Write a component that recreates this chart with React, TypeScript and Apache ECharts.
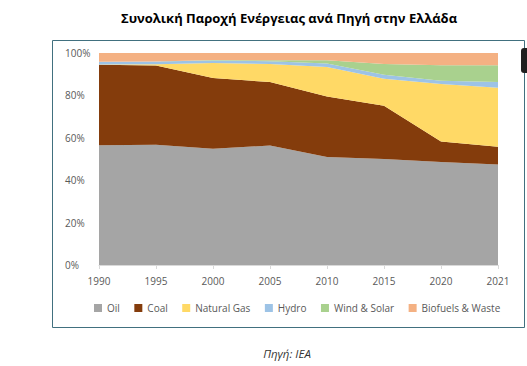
import React, { useEffect, useRef } from "react";
import * as echarts from "echarts";

const years = ["1990", "1995", "2000", "2005", "2010", "2015", "2020", "2021"];
const oil = [56.5, 56.7, 54.8, 56.4, 51.0, 50.0, 48.6, 47.4];
const coal = [38.0, 37.4, 33.4, 29.9, 28.5, 25.1, 9.7, 8.4];
const gas = [0.1, 0.6, 7.1, 8.5, 13.9, 12.8, 27.1, 27.8];
const hydro = [1.3, 1.3, 1.2, 1.3, 1.6, 1.8, 1.5, 2.7];
const windSolar = [0.0, 0.0, 0.2, 0.5, 1.6, 5.1, 7.3, 7.9];
const biofuels = [4.1, 4.0, 3.3, 3.4, 3.4, 5.2, 5.8, 5.8];
const yTicks = [0, 20, 40, 60, 80, 100];

const seriesDefs = [
  { name: "Oil", data: oil, color: "#A5A5A5" },
  { name: "Coal", data: coal, color: "#843C0C" },
  { name: "Natural Gas", data: gas, color: "#FFD966" },
  { name: "Hydro", data: hydro, color: "#9DC3E6" },
  { name: "Wind & Solar", data: windSolar, color: "#A9D18E" },
  { name: "Biofuels & Waste", data: biofuels, color: "#F4B183" },
];

export default function App() {
  const ref = useRef<HTMLDivElement>(null);
  useEffect(() => {
    document.body.style.margin = "0";
    const chart = echarts.init(ref.current!, null, { renderer: "svg" });
    const font = "'Open Sans', 'Noto Sans', sans-serif";
    chart.setOption({
      animation: false,
      backgroundColor: "#ffffff",
      textStyle: { fontFamily: font },
      grid: { left: 99, top: 53, width: 399, height: 212, containLabel: false },
      xAxis: {
        type: "category",
        data: years,
        boundaryGap: false,
        axisLine: { lineStyle: { color: "#D9D9D9" } },
        axisTick: { show: true, alignWithLabel: true, length: 4, lineStyle: { color: "#D9D9D9" } },
        axisLabel: { color: "#595959", fontSize: 10, margin: 11, fontFamily: font },
        splitLine: { show: false },
      },
      yAxis: {
        type: "value",
        min: 0,
        max: 100,
        interval: 20,
        axisLine: { show: false },
        axisTick: { show: false },
        splitLine: { show: false },
        axisLabel: {
          color: "#595959",
          fontSize: 10,
          align: "left",
          margin: 34,
          fontFamily: font,
          formatter: (v: number) => (yTicks.includes(v) ? v + "%" : ""),
        },
      },
      legend: {
        top: 298,
        left: 89,
        icon: "rect",
        itemWidth: 8,
        itemHeight: 8,
        itemGap: 14.5,
        textStyle: { color: "#595959", fontSize: 10, fontFamily: font },
        data: seriesDefs.map((s) => s.name),
      },
      series: seriesDefs.map((s) => ({
        name: s.name,
        type: "line",
        stack: "total",
        data: s.data,
        symbol: "none",
        lineStyle: { width: 0 },
        itemStyle: { color: s.color },
        areaStyle: { color: s.color, opacity: 1 },
      })),
      graphic: [
        {
          type: "rect",
          shape: { x: 52.5, y: 40.5, width: 472, height: 287 },
          style: { fill: "none", stroke: "#41707F", lineWidth: 1 },
          z: 100,
        },
        {
          type: "rect",
          shape: { x: 521, y: 48, width: 10, height: 25, r: 3 },
          style: { fill: "#1f1f1f" },
          z: 101,
        },
        {
          type: "text",
          x: 289,
          y: 18,
          style: {
            text: "Συνολική Παροχή Ενέργειας ανά Πηγή στην Ελλάδα",
            fill: "#000000",
            font: "bold 13px " + font,
            textAlign: "center",
            textVerticalAlign: "middle",
          },
        },
        {
          type: "text",
          x: 287,
          y: 353,
          style: {
            text: "Πηγή: IEA",
            fill: "#333333",
            font: "italic 11.5px " + font,
            textAlign: "center",
            textVerticalAlign: "middle",
          },
        },
      ],
    });
    return () => chart.dispose();
  }, []);
  return <div ref={ref} style={{ position: "absolute", left: 0, top: 0, width: 527, height: 366 }} />;
}
